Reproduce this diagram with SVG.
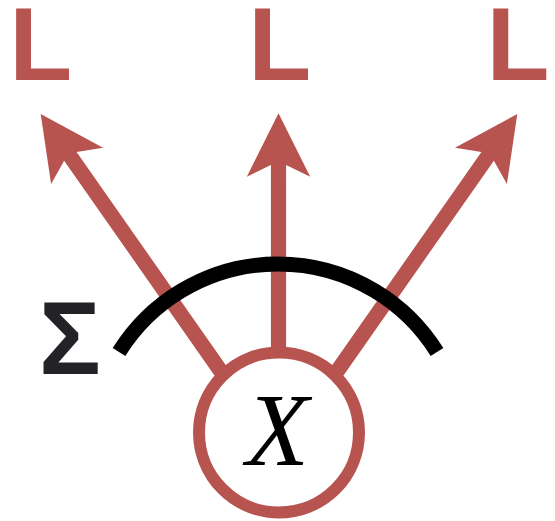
<svg xmlns="http://www.w3.org/2000/svg" width="555" height="521" viewBox="0 0 555 521">
  <defs>
    <style>
      .lbl { font-family: "Liberation Sans", Arial, sans-serif; font-weight: bold; font-size: 103px; }
      .red { fill: #b85450; }
      .sig { fill: #232327; }
      .var { font-family: "Liberation Serif", "Times New Roman", serif; font-style: italic; font-size: 103px; fill: #000; }
    </style>
    <polygon id="arrow" points="0,0 31.7,63.4 7.6,51.7 7.6,370 -7.6,370 -7.6,51.7 -31.7,63.4" fill="#b85450"/>
  </defs>
  <rect width="555" height="521" fill="#fff"/>
  <g id="labels">
    <text id="L1" class="lbl red" x="9.2" y="80">L</text>
    <text id="L2" class="lbl red" x="248.2" y="80">L</text>
    <text id="L3" class="lbl red" x="486.5" y="80">L</text>
  </g>
  <g id="connectors">
    <use href="#arrow" transform="translate(40.7,114) rotate(-35)"/>
    <use href="#arrow" transform="translate(278.5,113.3)"/>
    <use href="#arrow" transform="translate(517.3,114) rotate(35)"/>
  </g>
  <g id="node-X">
    <circle cx="279" cy="432.5" r="80" fill="#fff" stroke="#b85450" stroke-width="12"/>
    <text class="var" x="277.5" y="465" text-anchor="middle">X</text>
  </g>
  <g id="sum">
    <path d="M119,352 A187.6,187.6 0 0 1 437,352" fill="none" stroke="#000" stroke-width="15"/>
    <text class="lbl sig" x="39" y="374">Σ</text>
  </g>
</svg>
